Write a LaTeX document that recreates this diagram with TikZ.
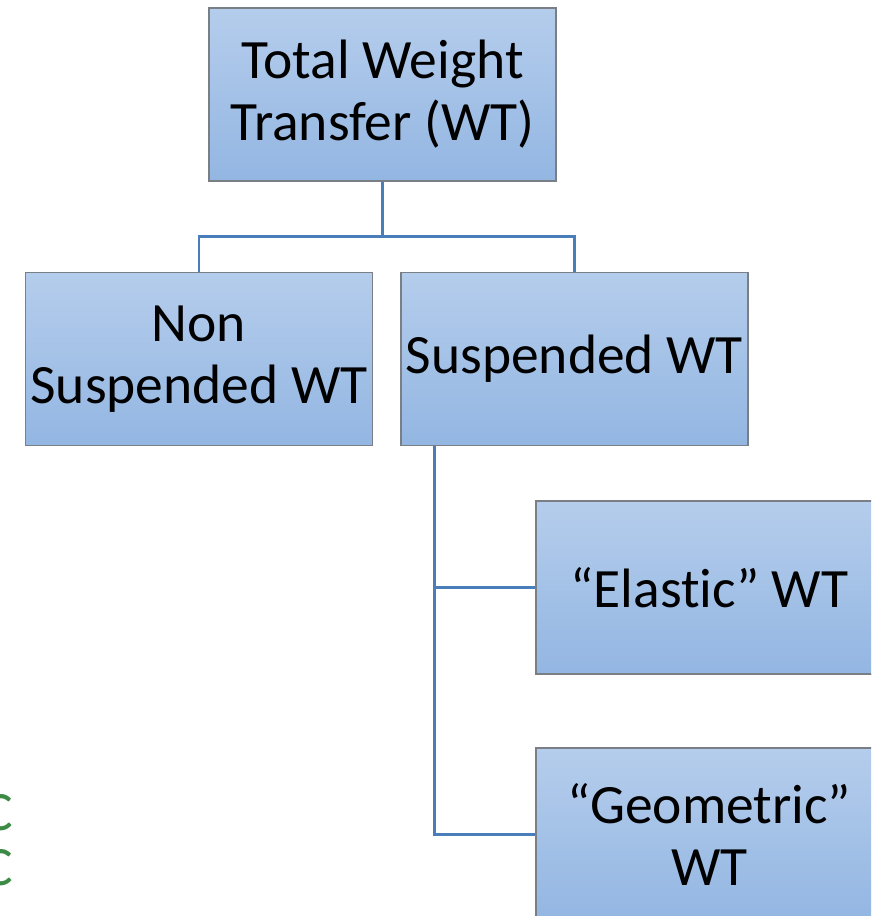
\documentclass[tikz,border=0pt]{standalone}
\usepackage{fontspec}
\setmainfont{Carlito}[Ligatures={NoCommon}]
\usepackage{tikz}

\definecolor{boxtop}{HTML}{B5CDEC}
\definecolor{boxbot}{HTML}{93B6E2}
\definecolor{boxline}{HTML}{7A7F86}
\definecolor{linkblue}{HTML}{4A7EBB}
\definecolor{tagreen}{HTML}{3B8B45}

\begin{document}
\begin{tikzpicture}[x=1pt, y=-1pt, font=\fontsize{55.5}{62}\selectfont,
  wtbox/.style={rectangle, draw=boxline, line width=1.2pt, top color=boxtop, bottom color=boxbot,
    minimum width=347pt, minimum height=173pt, inner sep=0pt, align=center},
  link/.style={draw=linkblue, line width=2.6pt},
  sidetag/.style={anchor=base east, text=tagreen, inner sep=0pt}
]
  \useasboundingbox (0,0) rectangle (871,916);
  \clip (0,0) rectangle (871,916);
  % ===== top level =====
  \node[wtbox] (total)  at (382.5,94.5) {Total Weight\\Transfer (WT)};
  % ===== second level =====
  \node[wtbox] (nonsusp) at (199,359)   {Non\\Suspended WT};
  \node[wtbox] (susp)    at (574.5,359) {Suspended WT};
  % ===== suspended split =====
  \node[wtbox] (elastic) at (709.5,587.5) {“Elastic” WT};
  \node[wtbox] (geom)    at (709.5,834.5) {“Geometric”\\WT};
  % ===== connectors =====
  \draw[link] (total.south) -- ++(0,55) coordinate (split) -| (nonsusp.north);
  \draw[link] (split) -| (susp.north);
  \draw[link] ([xshift=34pt]susp.south west) coordinate (trunk) |- (elastic.west);
  \draw[link] (trunk) |- (geom.west);
  % ===== text running in from the left =====
  \node[sidetag] (tagA) at (13,830) {C};
  \node[sidetag] (tagB) at (13,885) {C};
\end{tikzpicture}
\end{document}
